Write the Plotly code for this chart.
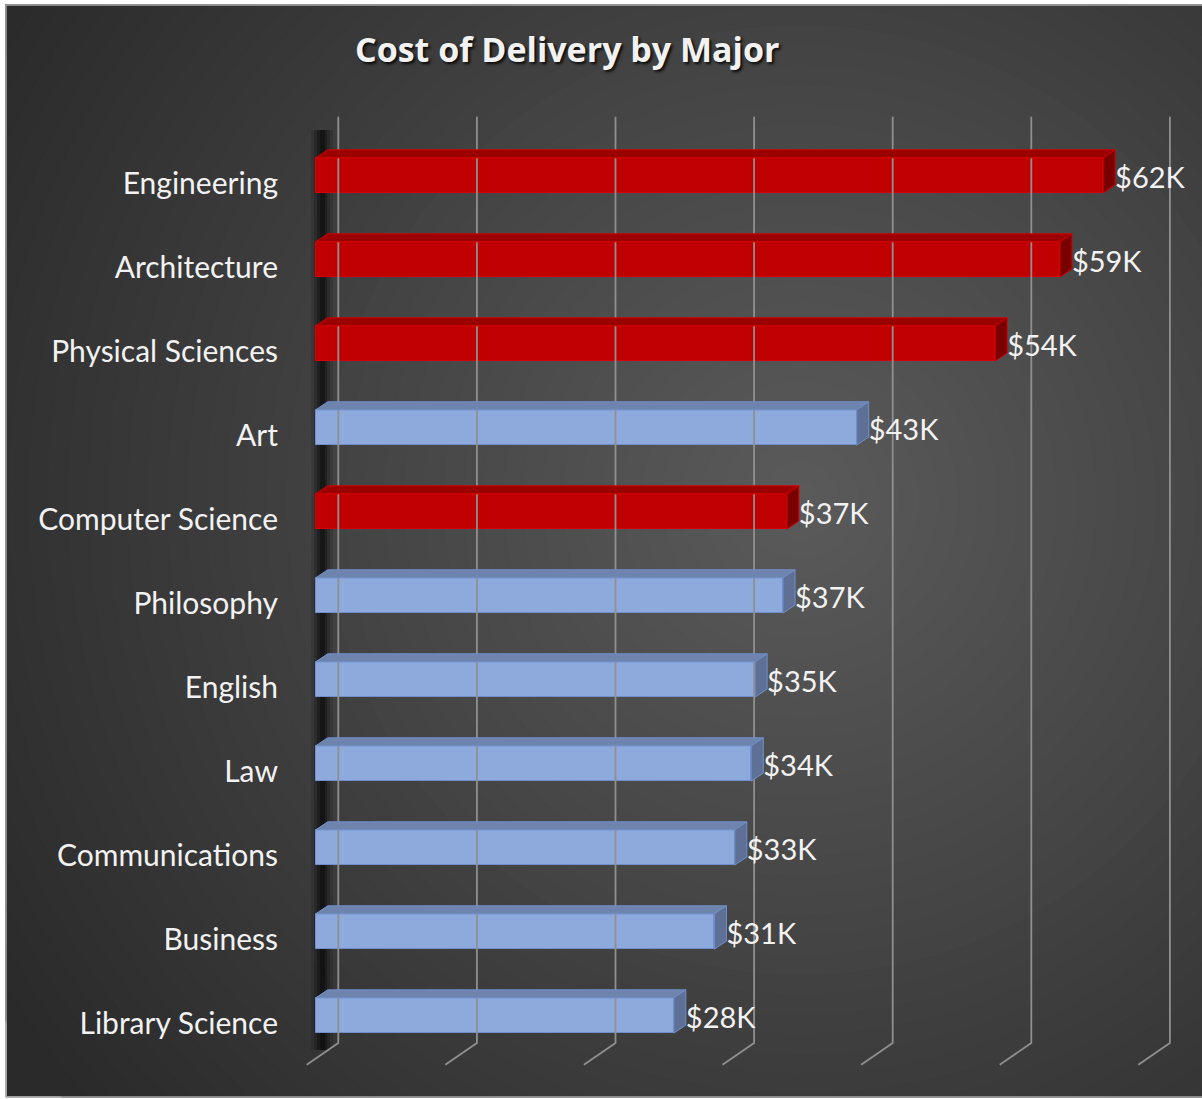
import plotly.graph_objects as go

# ---------------- data ----------------
majors = ["Engineering", "Architecture", "Physical Sciences", "Art", "Computer Science",
          "Philosophy", "English", "Law", "Communications", "Business", "Library Science"]
cost_k = [62.0, 58.6, 53.5, 42.6, 37.1, 36.8, 34.6, 34.3, 33.0, 31.4, 28.2]
highlight = [True, True, True, False, True, False, False, False, False, False, False]
title_text = "Cost of Delivery by Major"

# ---------------- styling / geometry ----------------
W, H = 1202, 1099
ML, MR, MT, MB = 300, 7, 112, 26
PLOT_W = W - ML - MR
PLOT_H = H - MT - MB
X0_PX = 315.7      # pixel of value 0 (bar front)
PX_PER_K = 12.7
Y0_PX = 1023.0     # pixel of lowest category tick
PX_PER_CAT = 84.0

def px2x(px):
    return (px - X0_PX) / PX_PER_K

def py2y(py):
    return (Y0_PX - py) / PX_PER_CAT

def px2paper(px):
    return (px - ML) / PLOT_W

def py2paper(py):
    return (H - MB - py) / PLOT_H

x_range = [px2x(ML), px2x(W - MR)]
y_range = [py2y(H - MB), py2y(MT)]

DX = 12.0 / PX_PER_K          # 3D depth offset (value units)
DY = 8.0 / PX_PER_CAT         # 3D depth offset (category units)
BAR_OFF = 0.09                # front face centre offset from tick
HALF = 0.21                   # half height of the front face
LABEL_OFF = 0.06

COL = {
    True: dict(front="#C00000", top="#9A0000", side="#7A0000", line="#D80000"),
    False: dict(front="#8EA9DB", top="#6F84AD", side="#5E7096", line="#7090CC"),
}

n = len(majors)
ypos = [n - 1 - k for k in range(n)]

fig = go.Figure()

# ---------------- back-wall gridlines + floor lines ----------------
gx, gy = [], []
for k in range(7):
    top_px = 338.3 + 138.6 * k
    gx += [px2x(top_px), px2x(top_px), px2x(top_px - 31.6), None]
    gy += [py2y(116.7), py2y(1043.0), py2y(1064.7), None]
fig.add_trace(go.Scatter(x=gx, y=gy, mode="lines", line=dict(color="#8f8f8f", width=1.8),
                         hoverinfo="skip", showlegend=False))

# ---------------- front faces ----------------
fig.add_trace(go.Bar(
    x=cost_k, y=[y + BAR_OFF for y in ypos], base=0, orientation="h", width=2 * HALF,
    marker=dict(color=[COL[h]["front"] for h in highlight],
                line=dict(color=[COL[h]["line"] for h in highlight], width=1)),
    showlegend=False, hoverinfo="skip"))

# ---------------- top and side faces ----------------
for v, y, h in zip(cost_k, ypos, highlight):
    yc = y + BAR_OFF
    yt, yb = yc + HALF, yc - HALF
    c = COL[h]
    fig.add_trace(go.Scatter(
        x=[0, v, v + DX, DX, 0], y=[yt, yt, yt + DY, yt + DY, yt],
        fill="toself", fillcolor=c["top"], mode="lines",
        line=dict(color=c["line"], width=1), hoverinfo="skip", showlegend=False))
    fig.add_trace(go.Scatter(
        x=[v, v, v + DX, v + DX, v], y=[yb, yt, yt + DY, yb + DY, yb],
        fill="toself", fillcolor=c["side"], mode="lines",
        line=dict(color=c["line"], width=1), hoverinfo="skip", showlegend=False))

# ---------------- value labels ----------------
fig.add_trace(go.Scatter(
    x=[v + DX for v in cost_k], y=[y + BAR_OFF - LABEL_OFF for y in ypos], mode="text",
    text=[f"${v:.0f}K" for v in cost_k], textposition="middle right",
    textfont=dict(family="Lato", size=29, color="#F2F2F2"),
    cliponaxis=False, hoverinfo="skip", showlegend=False))

# ---------------- background shapes ----------------
shapes = []
shapes.append(dict(type="rect", xref="paper", yref="paper", layer="below",
                   x0=px2paper(6), x1=px2paper(1210), y0=py2paper(1097), y1=py2paper(5),
                   fillcolor="#2A2A2A", line=dict(color="#A6A6A6", width=1.5)))
# radial gradient
cx, cy = 800.0, 500.0
RMAX = 950.0
STEPS = 48
c_in, c_out = 90, 42
for s in range(STEPS):
    r = RMAX * (1 - s / STEPS)
    g = int(round(c_out + (c_in - c_out) * (s / (STEPS - 1))))
    col = f"rgb({g},{g},{g})"
    shapes.append(dict(type="circle", xref="paper", yref="paper", layer="below",
                       x0=px2paper(cx - r), x1=px2paper(cx + r),
                       y0=py2paper(cy + r), y1=py2paper(cy - r),
                       fillcolor=col, line=dict(width=0)))
# white outside the frame
for (a, b, c_, d) in [(-5, 5.2, 1200, -10), (-5, 1300, 4.2, -10), (-5, 1300, 1200, 1097.8)]:
    shapes.append(dict(type="rect", xref="paper", yref="paper", layer="below",
                       x0=px2paper(a), x1=px2paper(b), y0=py2paper(c_), y1=py2paper(d),
                       fillcolor="white", line=dict(width=0)))
shapes.append(dict(type="line", xref="paper", yref="paper", layer="below",
                   x0=px2paper(6), x1=px2paper(6), y0=py2paper(1097), y1=py2paper(5),
                   line=dict(color="#A6A6A6", width=1.5)))
shapes.append(dict(type="line", xref="paper", yref="paper", layer="below",
                   x0=px2paper(6), x1=px2paper(1210), y0=py2paper(5), y1=py2paper(5),
                   line=dict(color="#A6A6A6", width=1.5)))
shapes.append(dict(type="line", xref="paper", yref="paper", layer="below",
                   x0=px2paper(6), x1=px2paper(1210), y0=py2paper(1097), y1=py2paper(1097),
                   line=dict(color="#A6A6A6", width=1.5)))
# soft dark side wall strip
for (l, r, a) in [(311, 333, 0.12), (314, 330, 0.18), (317, 327, 0.28), (320, 325, 0.3)]:
    shapes.append(dict(type="rect", xref="x", yref="y", layer="below",
                       x0=px2x(l), x1=px2x(r), y0=py2y(1050), y1=py2y(130),
                       fillcolor=f"rgba(0,0,0,{a})", line=dict(width=0)))

# ---------------- title ----------------
annotations = [dict(text=f"<b>{title_text}</b>", xref="paper", yref="paper",
                    x=px2paper(567), y=py2paper(49), showarrow=False,
                    font=dict(family="Open Sans", size=34, color="#F2F2F2",
                              shadow="2px 2px 3px rgba(0,0,0,0.85)"),
                    xanchor="center", yanchor="middle")]

fig.update_layout(
    width=W, height=H,
    margin=dict(l=ML, r=MR, t=MT, b=MB),
    paper_bgcolor="white", plot_bgcolor="rgba(0,0,0,0)",
    shapes=shapes, annotations=annotations,
    showlegend=False,
    xaxis=dict(range=x_range, showgrid=False, zeroline=False, showticklabels=False,
               showline=False, fixedrange=True),
    yaxis=dict(range=y_range, showgrid=False, zeroline=False, showline=False,
               tickmode="array", tickvals=ypos, ticktext=majors,
               tickfont=dict(family="Lato", size=30, color="#F2F2F2"),
               ticks="", ticklabelstandoff=21, fixedrange=True),
    bargap=0,
)

fig.write_html("out.html")
